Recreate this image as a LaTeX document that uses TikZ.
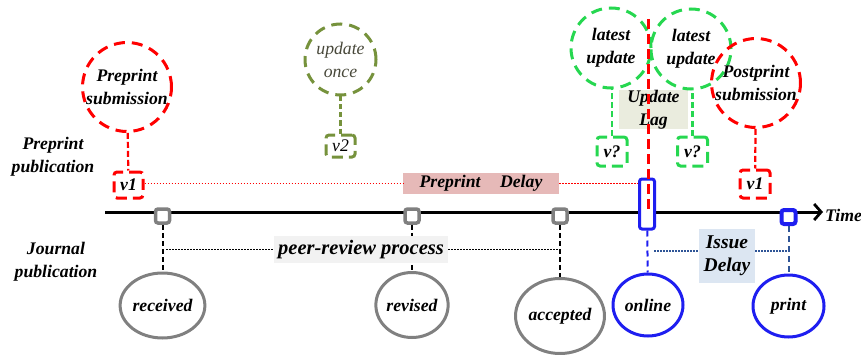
\documentclass[tikz,border=0pt]{standalone}
\usepackage{fontspec}
\setmainfont{Liberation Serif}
\usetikzlibrary{shapes.geometric,arrows.meta}

\definecolor{prered}{RGB}{255,0,0}
\definecolor{updgreen}{RGB}{38,215,80}
\definecolor{onceolive}{RGB}{118,146,60}
\definecolor{oncetext}{RGB}{72,72,58}
\definecolor{stepgray}{RGB}{128,128,128}
\definecolor{pubblue}{RGB}{30,30,240}
\definecolor{printblue}{RGB}{47,85,151}
\definecolor{delaypink}{RGB}{230,185,184}
\definecolor{reviewgray}{RGB}{242,242,242}
\definecolor{issueblue}{RGB}{220,230,242}
\definecolor{lagbeige}{RGB}{234,236,222}

\tikzset{
  lbl/.style={font=\bfseries\itshape\fontsize{17.7}{23}\selectfont, align=center, inner sep=0pt},
  dashcirc/.style={circle, line width=3pt, dash pattern=on 11pt off 7pt, inner sep=0pt},
  vbox/.style={rectangle, rounded corners=3pt, line width=3pt, dash pattern=on 11pt off 6pt, inner sep=0pt},
  stepbox/.style={rectangle, rounded corners=2.5pt, draw=stepgray, fill=white, line width=3.5pt, minimum size=14pt, inner sep=0pt},
  stepnode/.style={ellipse, draw=stepgray, line width=3pt, inner sep=0pt},
  pubnode/.style={ellipse, draw=pubblue, line width=3pt, inner sep=0pt},
  tagbox/.style={rectangle, inner sep=0pt},
  spandots/.style={line width=1.5pt, dash pattern=on 1.6pt off 1.4pt}
}

\begin{document}
\begin{tikzpicture}[x=1pt,y=1pt]
\useasboundingbox (0,0) rectangle (861,354);
% Drawing side labels
\node[lbl] (prelab) at (53,197) {Preprint\\publication};
\node[lbl] (jrnlab) at (56,92) {Journal\\publication};
% Drawing time axis
\coordinate (tstart) at (105,142);
\coordinate (tend) at (823,142);
\draw[line width=3pt, -{Straight Barb[length=7pt,width=16pt,line width=2.8pt]}] (tstart) -- (tend);
\node[lbl, anchor=west] (timelab) at (825,139) {Time};
% Drawing journal milestones
\node[stepbox] (recsq) at (162.5,138) {};
\node[stepbox] (revsq) at (412,138) {};
\node[stepbox] (accsq) at (560,138) {};
\node[rectangle, rounded corners=2.5pt, draw=pubblue, fill=white, line width=3pt, minimum width=15pt, minimum height=50pt] (onlrect) at (647,150) {};
\node[rectangle, rounded corners=2.5pt, draw=pubblue, fill=white, line width=4pt, minimum size=14pt] (prtsq) at (788.5,137) {};
\node[stepnode, minimum width=71pt, minimum height=65pt, lbl] (recv) at (162.5,48.5) {received};
\node[stepnode, minimum width=71pt, minimum height=65pt, lbl] (revd) at (412,49) {revised};
\node[stepnode, minimum width=77pt, minimum height=75pt, lbl] (accd) at (560,38) {accepted};
\node[pubnode, minimum width=70pt, minimum height=62pt, lbl] (onln) at (648,49) {online};
\node[pubnode, minimum width=71pt, minimum height=62pt, lbl] (prnt) at (788.5,48) {print};
\draw[line width=2pt, dash pattern=on 5pt off 3pt] (recsq) -- (recv);
\draw[line width=2pt, dash pattern=on 5pt off 3pt] (revsq) -- (revd);
\draw[line width=2pt, dash pattern=on 5pt off 3pt] (accsq) -- (accd);
\draw[pubblue, line width=2pt, dash pattern=on 6pt off 4pt] (onlrect) -- (onln);
\draw[printblue, line width=2pt, dash pattern=on 6pt off 4pt] (prtsq) -- (prnt);
% Drawing peer review span
\node[tagbox, fill=reviewgray, minimum width=174pt, minimum height=27pt, lbl, font=\bfseries\itshape\fontsize{20.5}{23}\selectfont] (review) at (361,104.5) {peer-review process};
\coordinate (revL) at (166,104.5);
\coordinate (revR) at (559,104.5);
\draw[spandots] (revL) -- (review.west);
\draw[spandots] (review.east) -- (revR);
% Drawing issue delay span
\node[tagbox, fill=issueblue, minimum width=56pt, minimum height=54pt, lbl, font=\bfseries\itshape\fontsize{19.5}{23}\selectfont] (issue) at (727,98) {Issue\\Delay};
\coordinate (issL) at (654,103);
\coordinate (issR) at (787,103);
\draw[printblue, spandots] (issL) -- (issue.west |- issL);
\draw[printblue, spandots] (issue.east |- issR) -- (issR);
% Drawing preprint versions
\node[dashcirc, draw=prered, minimum size=79pt, lbl] (presub) at (127,267) {Preprint\\submission};
\node[vbox, draw=prered, minimum width=29pt, minimum height=26pt, lbl] (vone) at (128.5,169) {v1};
\draw[prered, line width=2.2pt, dash pattern=on 6pt off 3pt] (presub) -- (vone);
\node[dashcirc, draw=onceolive, minimum width=71pt, minimum height=67pt, font=\itshape\fontsize{17.7}{23}\selectfont, text=oncetext, align=center] (once) at (340.5,294.5) {update\\once};
\node[vbox, draw=onceolive, minimum width=29pt, minimum height=22pt, lbl, font=\itshape\fontsize{17.7}{23}\selectfont] (vtwo) at (340.5,208) {v2};
\draw[onceolive, line width=2.2pt, dash pattern=on 5pt off 3pt] (once) -- (vtwo);
% Drawing preprint delay span
\node[tagbox, fill=delaypink, minimum width=156pt, minimum height=21pt, lbl] (pdelay) at (481,170.5) {Preprint\hspace{1.1em}Delay};
\draw[prered, spandots] (vone.east |- pdelay) -- (pdelay.west);
\draw[prered, spandots] (pdelay.east) -- (onlrect.west |- pdelay);
% Drawing update lag
\node[tagbox, fill=lagbeige, minimum width=69pt, minimum height=39pt, lbl] (lag) at (653.5,244.5) {Update\\Lag};
\node[dashcirc, draw=updgreen, minimum width=74pt, minimum height=80pt, lbl] (lateA) at (611,306) {latest\\update};
\node[dashcirc, draw=updgreen, minimum width=80pt, minimum height=78pt, lbl] (lateB) at (691,305) {latest\\update};
\node[vbox, draw=updgreen, minimum width=30pt, minimum height=29pt, lbl] (vqA) at (612,202.5) {v?};
\node[vbox, draw=updgreen, minimum width=30pt, minimum height=29pt, lbl] (vqB) at (692.5,202.5) {v?};
\draw[updgreen, line width=2.2pt, dash pattern=on 6pt off 3pt] (vqA.north) -- (vqA.north |- lateA.south);
\draw[updgreen, line width=2.2pt, dash pattern=on 6pt off 3pt] (vqB.north) -- (vqB.north |- lateB.south);
\coordinate (lagtop) at (648,335);
\draw[prered, line width=3pt, dash pattern=on 10pt off 5pt] (lagtop) -- (lagtop |- tstart);
% Drawing postprint version
\node[dashcirc, draw=prered, minimum width=81pt, minimum height=80pt, lbl] (postsub) at (756,271) {Postprint\\submission};
\node[vbox, draw=prered, minimum width=30pt, minimum height=28pt, lbl] (vpost) at (755,170) {v1};
\draw[prered, line width=2.2pt, dash pattern=on 6pt off 3pt] (postsub) -- (vpost);
\end{tikzpicture}
\end{document}
